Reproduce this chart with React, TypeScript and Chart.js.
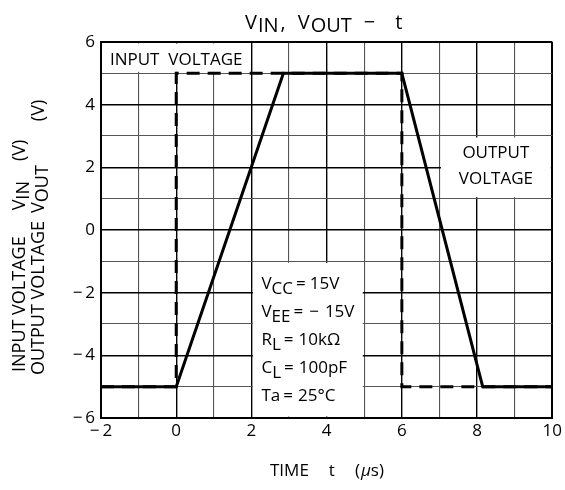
import React, { useEffect, useRef } from 'react';
import { Chart, registerables } from 'chart.js';

Chart.register(...registerables);

// ---- data ----
const inputTime = [-2, 0, 0, 6, 6, 10];
const inputVolt = [-5, -5, 5, 5, -5, -5];
const outputTime = [-2, 0, 2.85, 6, 8.15, 10];
const outputVolt = [-5, -5, 5, 5, -5, -5];
const xTickValues = [-2, 0, 2, 4, 6, 8, 10];
const yTickValues = [-6, -4, -2, 0, 2, 4, 6];

const FONT = "'Open Sans', 'DejaVu Sans', sans-serif";

const fmt = (v: number) => (v < 0 ? '\u2212\u2009' + Math.abs(v) : String(v));

// sequential text: [text, gapBefore, dy, style]
type Seg = [string, number, number, string?];

function seq(ctx: CanvasRenderingContext2D, segs: Seg[], x0: number, base: number, size: number) {
  let x = x0;
  for (const [t, gap, dy, style] of segs) {
    x += gap;
    ctx.font = `${style || ''} ${size}px ${FONT}`;
    ctx.fillText(t, x, base + dy);
    x += ctx.measureText(t).width;
  }
}

const annotPlugin = {
  id: 'annot',
  beforeDatasetsDraw(chart: any) {
    const { ctx, scales } = chart;
    const x = scales.x, y = scales.y;
    const boxes = [
      [-2, 2, 5, 6],
      [7, 10, 1, 3],
      [2, 5, -6, -1],
    ];
    ctx.save();
    ctx.fillStyle = '#ffffff';
    for (const [x0, x1, y0, y1] of boxes) {
      const l = x.getPixelForValue(x0), r = x.getPixelForValue(x1);
      const t = y.getPixelForValue(y1), b = y.getPixelForValue(y0);
      ctx.fillRect(l + 1.5, t + 1.5, r - l - 3, b - t - 3);
    }
    ctx.restore();
  },
  afterDraw(chart: any) {
    const { ctx, scales } = chart;
    const x = scales.x, y = scales.y;
    ctx.save();
    ctx.fillStyle = '#000';
    ctx.textBaseline = 'alphabetic';
    ctx.textAlign = 'left';

    // Title
    seq(ctx, [
      ['V', 0, 0], ['IN', 1, 3.5], [',', 2, 0], ['V', 12, 0], ['OUT', 1, 3.5],
      ['\u2212', 12, 0], ['t', 20, 0],
    ], 245, 28.5, 20);

    // box labels
    ctx.textAlign = 'center';
    ctx.font = `17px ${FONT}`;
    ctx.fillText('INPUT  VOLTAGE', x.getPixelForValue(0), 65);
    ctx.fillText('OUTPUT', x.getPixelForValue(8.5), 158);
    ctx.fillText('VOLTAGE', x.getPixelForValue(8.5), 184);

    // X axis title
    ctx.textAlign = 'left';
    seq(ctx, [
      ['TIME', 0, 0], ['t', 20, 0], ['(', 20, 0], ['\u03bc', 1, 0, 'italic'], ['s)', 0, 0],
    ], 270, 476, 17);

    // Parameter box text
    const bl = x.getPixelForValue(2) + 10;
    const bt = y.getPixelForValue(-1);
    const lh = 28.1;
    const b0 = bt + 27.7;
    const sb = 5;
    seq(ctx, [['V', 0, 0], ['CC', 0, sb], ['=', 3, 0], ['15V', 4, 0]], bl, b0, 17);
    seq(ctx, [['V', 0, 0], ['EE', 0, sb], ['=', 3, 0], ['\u2212', 6, 0], ['15V', 6, 0]], bl, b0 + lh, 17);
    seq(ctx, [['R', 0, 0], ['L', 0, sb], ['=', 3, 0], ['10k\u03a9', 5, 0]], bl, b0 + 2 * lh, 17);
    seq(ctx, [['C', 0, 0], ['L', 0, sb], ['=', 3, 0], ['100pF', 5, 0]], bl, b0 + 3 * lh, 17);
    seq(ctx, [['Ta', 0, 0], ['=', 3, 0], ['25\u00b0C', 5, 0]], bl, b0 + 4 * lh, 17);

    // Y axis title (rotated)
    const rot = (segs: Seg[], baseX: number, startY: number) => {
      ctx.save();
      ctx.translate(baseX, startY);
      ctx.rotate(-Math.PI / 2);
      seq(ctx, segs, 0, 0, 18);
      ctx.restore();
    };
    rot([['INPUT VOLTAGE', 0, 0], ['V', 26, 0], ['IN', 0, 3.5], ['(V)', 20, 0]], 25, 372);
    rot([['OUTPUT VOLTAGE', 0, 0], ['V', 8, 0], ['OUT', 0, 3.5], ['(V)', 44, 0]], 44, 375);

    ctx.restore();
  },
};

const gridColor = (c: any) => {
  const v = c.tick ? c.tick.value : 0;
  return Math.abs(v % 2) === 0 ? '#000000' : '#555555';
};

export default function App() {
  const ref = useRef<HTMLCanvasElement>(null);
  useEffect(() => {
    if (!ref.current) return;
    const chart = new Chart(ref.current, {
      type: 'line',
      data: {
        datasets: [
          {
            label: 'Output voltage',
            data: outputTime.map((t, i) => ({ x: t, y: outputVolt[i] })),
            borderColor: '#000',
            borderWidth: 3,
            pointRadius: 0,
            tension: 0,
            fill: false,
            order: 0,
          },
          {
            label: 'Input voltage',
            data: inputTime.map((t, i) => ({ x: t, y: inputVolt[i] })),
            borderColor: '#000',
            borderWidth: 3,
            borderDash: [13, 8],
            pointRadius: 0,
            tension: 0,
            fill: false,
            order: 1,
          },
        ],
      },
      options: {
        responsive: false,
        animation: false,
        devicePixelRatio: 1,
        layout: { padding: { top: 42, right: 10, left: 0, bottom: 0 } },
        plugins: {
          legend: { display: false },
          title: { display: false },
          tooltip: { enabled: false },
        },
        scales: {
          x: {
            type: 'linear',
            min: -2,
            max: 10,
            afterFit: (s: any) => { s.height = 72; },
            ticks: {
              stepSize: 1,
              autoSkip: false,
              maxRotation: 0,
              padding: 3,
              color: '#000',
              font: { family: FONT, size: 17 },
              callback: (v: any) => (xTickValues.includes(Number(v)) ? fmt(Number(v)) : ''),
            },
            grid: {
              drawTicks: false,
              color: gridColor,
              lineWidth: (c: any) => {
                const v = c.tick ? c.tick.value : 0;
                if (v === -2 || v === 10) return 2;
                return Math.abs(v % 2) === 0 ? 1.4 : 1.1;
              },
            },
            border: { display: true, color: '#000', width: 2 },
          },
          y: {
            type: 'linear',
            min: -6,
            max: 6,
            afterFit: (s: any) => { s.width = 101; },
            ticks: {
              stepSize: 1,
              autoSkip: false,
              padding: 6,
              color: '#000',
              font: { family: FONT, size: 17 },
              callback: (v: any) => (yTickValues.includes(Number(v)) ? fmt(Number(v)) : ''),
            },
            grid: {
              drawTicks: false,
              color: gridColor,
              lineWidth: (c: any) => {
                const v = c.tick ? c.tick.value : 0;
                if (v === -6 || v === 6) return 2;
                return Math.abs(v % 2) === 0 ? 1.4 : 1.1;
              },
            },
            border: { display: true, color: '#000', width: 2 },
          },
        },
      },
      plugins: [annotPlugin],
    } as any);
    return () => chart.destroy();
  }, []);

  return (
    <div style={{ position: 'absolute', left: 0, top: 0, width: 565, height: 490, background: '#fff' }}>
      <canvas ref={ref} width={565} height={490} style={{ display: 'block' }} />
    </div>
  );
}
